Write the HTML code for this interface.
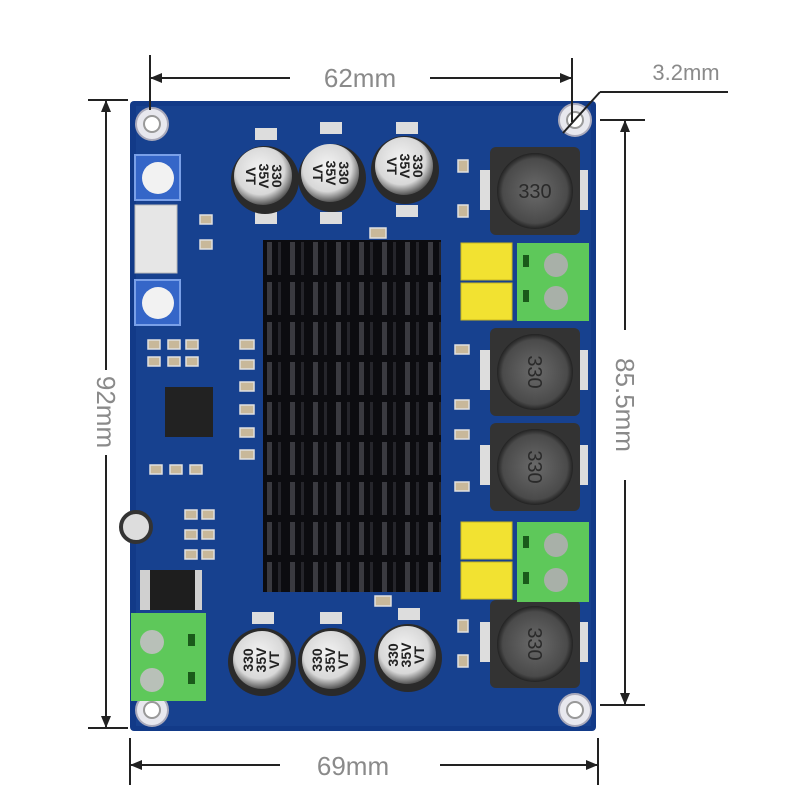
<!DOCTYPE html>
<html><head><meta charset="utf-8"><style>
html,body{margin:0;padding:0;background:#fff;}
svg{display:block;}
text{font-family:"Liberation Sans",sans-serif;}
</style></head><body>
<svg width="800" height="800" viewBox="0 0 800 800" xmlns="http://www.w3.org/2000/svg">
<defs>
<pattern id="fins" x="263" y="240" width="23" height="40" patternUnits="userSpaceOnUse">
<rect width="23" height="40" fill="#0c0c10"/>
<rect x="4" y="2" width="5" height="33" fill="#3a3a40"/>
<rect x="15" y="2" width="3" height="33" fill="#25252b"/>
</pattern>
<radialGradient id="cap" cx="0.45" cy="0.4" r="0.6"><stop offset="0" stop-color="#f4f4f4"/><stop offset="0.7" stop-color="#d8d8d8"/><stop offset="1" stop-color="#555"/></radialGradient>
<radialGradient id="ind" cx="0.5" cy="0.5" r="0.5"><stop offset="0" stop-color="#6a6a6a"/><stop offset="0.85" stop-color="#4a4a4a"/><stop offset="1" stop-color="#222"/></radialGradient>
</defs>
<rect x="130" y="101" width="466" height="630" rx="4" fill="#123a88"/>
<rect x="136" y="106" width="455" height="620" fill="#17418f"/>
<g fill="#e8e8ee" stroke="#aab" stroke-width="2">
<circle cx="152" cy="124" r="16"/><circle cx="575" cy="120" r="16"/>
<circle cx="152" cy="710" r="16"/><circle cx="575" cy="710" r="16"/>
</g>
<g fill="#fff" stroke="#999" stroke-width="2">
<circle cx="152" cy="124" r="8"/><circle cx="575" cy="120" r="8"/>
<circle cx="152" cy="710" r="8"/><circle cx="575" cy="710" r="8"/>
</g>
<rect x="135" y="155" width="45" height="45" fill="#3566c8" stroke="#7aa0e8" stroke-width="2"/>
<circle cx="158" cy="178" r="16" fill="#f2f2f2"/>
<rect x="135" y="280" width="45" height="45" fill="#3566c8" stroke="#7aa0e8" stroke-width="2"/>
<circle cx="158" cy="303" r="16" fill="#f2f2f2"/>
<rect x="135" y="205" width="42" height="68" fill="#e6e6e6" stroke="#bbb"/>
<rect x="165" y="387" width="48" height="50" fill="#222"/>
<g fill="#c8b89a" stroke="#e0e0e0" stroke-width="1.5">
<rect x="148" y="340" width="12" height="9"/><rect x="168" y="340" width="12" height="9"/><rect x="186" y="340" width="12" height="9"/>
<rect x="148" y="357" width="12" height="9"/><rect x="168" y="357" width="12" height="9"/><rect x="186" y="357" width="12" height="9"/>
<rect x="150" y="465" width="12" height="9"/><rect x="170" y="465" width="12" height="9"/><rect x="190" y="465" width="12" height="9"/>
<rect x="185" y="510" width="12" height="9"/><rect x="202" y="510" width="12" height="9"/>
<rect x="185" y="530" width="12" height="9"/><rect x="202" y="530" width="12" height="9"/>
<rect x="185" y="550" width="12" height="9"/><rect x="202" y="550" width="12" height="9"/>
<rect x="240" y="340" width="14" height="9"/><rect x="240" y="360" width="14" height="9"/><rect x="240" y="382" width="14" height="9"/>
<rect x="240" y="405" width="14" height="9"/><rect x="240" y="428" width="14" height="9"/><rect x="240" y="450" width="14" height="9"/>
<rect x="455" y="345" width="14" height="9"/><rect x="455" y="400" width="14" height="9"/><rect x="455" y="430" width="14" height="9"/><rect x="455" y="482" width="14" height="9"/>
<rect x="370" y="228" width="16" height="10"/><rect x="375" y="596" width="16" height="10"/>
<rect x="200" y="215" width="12" height="9"/><rect x="200" y="240" width="12" height="9"/>
<rect x="458" y="160" width="10" height="12"/><rect x="458" y="205" width="10" height="12"/>
<rect x="458" y="620" width="10" height="12"/><rect x="458" y="655" width="10" height="12"/>
</g>
<circle cx="136" cy="527" r="15" fill="#ddd" stroke="#333" stroke-width="4"/>
<rect x="140" y="570" width="62" height="40" fill="#d0d0d0"/>
<rect x="150" y="570" width="45" height="40" fill="#1e1e1e"/>
<rect x="263" y="240" width="178" height="352" fill="url(#fins)"/>
<g>
<rect x="255" y="128" width="22" height="12" fill="#ddd"/><rect x="255" y="212" width="22" height="12" fill="#ddd"/>
<circle cx="265" cy="180" r="34" fill="#2a2a2a"/><circle cx="263" cy="176" r="29" fill="url(#cap)"/>
<rect x="320" y="122" width="22" height="12" fill="#ddd"/><rect x="320" y="212" width="22" height="12" fill="#ddd"/>
<circle cx="332" cy="178" r="34" fill="#2a2a2a"/><circle cx="330" cy="173" r="29" fill="url(#cap)"/>
<rect x="396" y="122" width="22" height="12" fill="#ddd"/><rect x="396" y="205" width="22" height="12" fill="#ddd"/>
<circle cx="405" cy="170" r="34" fill="#2a2a2a"/><circle cx="404" cy="166" r="29" fill="url(#cap)"/>
<rect x="252" y="612" width="22" height="12" fill="#ddd"/>
<circle cx="262" cy="662" r="34" fill="#2a2a2a"/><circle cx="262" cy="660" r="29" fill="url(#cap)"/>
<rect x="320" y="612" width="22" height="12" fill="#ddd"/>
<circle cx="332" cy="662" r="34" fill="#2a2a2a"/><circle cx="331" cy="660" r="29" fill="url(#cap)"/>
<rect x="398" y="608" width="22" height="12" fill="#ddd"/>
<circle cx="408" cy="658" r="34" fill="#2a2a2a"/><circle cx="407" cy="655" r="29" fill="url(#cap)"/>
</g>
<g font-size="14" font-weight="bold" fill="#222" text-anchor="middle">
<text transform="translate(263,176) rotate(90)" dy="-9">330</text><text transform="translate(263,176) rotate(90)" dy="4">35V</text><text transform="translate(263,176) rotate(90)" dy="17">VT</text>
<text transform="translate(330,173) rotate(90)" dy="-9">330</text><text transform="translate(330,173) rotate(90)" dy="4">35V</text><text transform="translate(330,173) rotate(90)" dy="17">VT</text>
<text transform="translate(404,166) rotate(90)" dy="-9">330</text><text transform="translate(404,166) rotate(90)" dy="4">35V</text><text transform="translate(404,166) rotate(90)" dy="17">VT</text>
<text transform="translate(262,660) rotate(-90)" dy="-9">330</text><text transform="translate(262,660) rotate(-90)" dy="4">35V</text><text transform="translate(262,660) rotate(-90)" dy="17">VT</text>
<text transform="translate(331,660) rotate(-90)" dy="-9">330</text><text transform="translate(331,660) rotate(-90)" dy="4">35V</text><text transform="translate(331,660) rotate(-90)" dy="17">VT</text>
<text transform="translate(407,655) rotate(-90)" dy="-9">330</text><text transform="translate(407,655) rotate(-90)" dy="4">35V</text><text transform="translate(407,655) rotate(-90)" dy="17">VT</text>
</g>
<g>
<rect x="480" y="170" width="108" height="40" fill="#ddd"/>
<rect x="490" y="147" width="90" height="88" rx="6" fill="#333"/><circle cx="535" cy="191" r="38" fill="url(#ind)"/>
<rect x="480" y="350" width="108" height="40" fill="#ddd"/>
<rect x="490" y="328" width="90" height="88" rx="6" fill="#333"/><circle cx="535" cy="372" r="38" fill="url(#ind)"/>
<rect x="480" y="445" width="108" height="40" fill="#ddd"/>
<rect x="490" y="423" width="90" height="88" rx="6" fill="#333"/><circle cx="535" cy="467" r="38" fill="url(#ind)"/>
<rect x="480" y="622" width="108" height="40" fill="#ddd"/>
<rect x="490" y="600" width="90" height="88" rx="6" fill="#333"/><circle cx="535" cy="644" r="38" fill="url(#ind)"/>
</g>
<g font-size="20" fill="#2a2a2a" text-anchor="middle">
<text x="535" y="198">330</text>
<text transform="translate(535,372) rotate(90)" dy="7">330</text>
<text transform="translate(535,467) rotate(90)" dy="7">330</text>
<text transform="translate(535,644) rotate(90)" dy="7">330</text>
</g>
<g fill="#f2e231" stroke="#c9b820">
<rect x="461" y="243" width="51" height="37"/><rect x="461" y="283" width="51" height="37"/>
<rect x="461" y="522" width="51" height="37"/><rect x="461" y="562" width="51" height="37"/>
</g>
<g>
<rect x="517" y="243" width="72" height="78" fill="#5ec85a"/>
<circle cx="556" cy="265" r="12" fill="#a8b0a8"/><circle cx="556" cy="298" r="12" fill="#a8b0a8"/>
<rect x="523" y="255" width="6" height="12" fill="#1a5a1a"/><rect x="523" y="290" width="6" height="12" fill="#1a5a1a"/>
<rect x="517" y="522" width="72" height="80" fill="#5ec85a"/>
<circle cx="556" cy="545" r="12" fill="#a8b0a8"/><circle cx="556" cy="580" r="12" fill="#a8b0a8"/>
<rect x="523" y="536" width="6" height="12" fill="#1a5a1a"/><rect x="523" y="572" width="6" height="12" fill="#1a5a1a"/>
<rect x="131" y="613" width="75" height="88" fill="#5ec85a"/>
<circle cx="152" cy="642" r="12" fill="#b8c0b8"/><circle cx="152" cy="680" r="12" fill="#b8c0b8"/>
<rect x="188" y="634" width="7" height="12" fill="#1a5a1a"/><rect x="188" y="672" width="7" height="12" fill="#1a5a1a"/>
</g>
<g stroke="#222" stroke-width="2" fill="none">
<line x1="150" y1="55" x2="150" y2="110"/><line x1="572" y1="58" x2="572" y2="122"/>
<line x1="150" y1="78" x2="290" y2="78"/><line x1="430" y1="78" x2="572" y2="78"/>
<line x1="88" y1="100" x2="128" y2="100"/><line x1="88" y1="728" x2="128" y2="728"/>
<line x1="106" y1="100" x2="106" y2="370"/><line x1="106" y1="455" x2="106" y2="728"/>
<line x1="600" y1="120" x2="645" y2="120"/><line x1="600" y1="705" x2="645" y2="705"/>
<line x1="625" y1="120" x2="625" y2="330"/><line x1="625" y1="480" x2="625" y2="705"/>
<line x1="130" y1="738" x2="130" y2="785"/><line x1="598" y1="738" x2="598" y2="785"/>
<line x1="130" y1="765" x2="280" y2="765"/><line x1="440" y1="765" x2="598" y2="765"/>
<line x1="600" y1="92" x2="728" y2="92"/><line x1="600" y1="92" x2="563" y2="133"/>
</g>
<g fill="#222">
<polygon points="150,78 162,73 162,83"/><polygon points="572,78 560,73 560,83"/>
<polygon points="106,100 101,112 111,112"/><polygon points="106,728 101,716 111,716"/>
<polygon points="625,120 620,132 630,132"/><polygon points="625,705 620,693 630,693"/>
<polygon points="130,765 142,760 142,770"/><polygon points="598,765 586,760 586,770"/>
</g>
<g fill="#8a8a8a" font-size="26" text-anchor="middle">
<text x="360" y="87">62mm</text>
<text x="353" y="775">69mm</text>
<text x="686" y="80" font-size="22">3.2mm</text>
<text transform="translate(106,412) rotate(90)" dy="9">92mm</text>
<text transform="translate(625,405) rotate(90)" dy="9">85.5mm</text>
</g>
</svg>
</body></html>
